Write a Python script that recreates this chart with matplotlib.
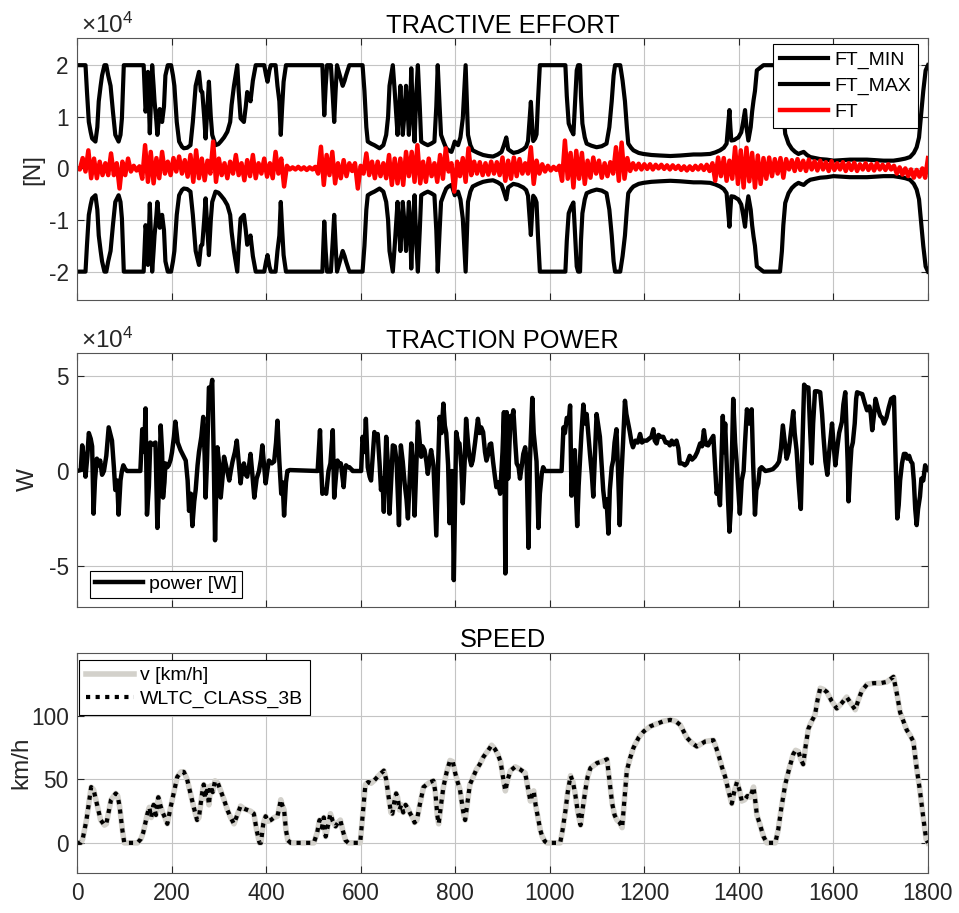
import numpy as np
import matplotlib
matplotlib.use('Agg')
import matplotlib.pyplot as plt

plt.rcParams['font.family'] = ['Liberation Sans', 'DejaVu Sans']
plt.rcParams['mathtext.fontset'] = 'custom'
plt.rcParams['mathtext.rm'] = 'Liberation Sans'
plt.rcParams['mathtext.it'] = 'Liberation Sans:italic'
plt.rcParams['mathtext.bf'] = 'Liberation Sans:bold'

# ---------------- DATA ----------------
# Tractive effort envelope: (time s, FT_MAX [1e4 N], FT_MIN [1e4 N])
ft_env = [
    (0, 2.0, -2.0), (18, 2.0, -2.0), (21, 1.5, -1.5), (25, 0.9, -0.9), (29, 0.7, -0.7),
    (32, 0.58, -0.58), (39, 0.52, -0.52), (43, 0.8, -0.8), (46, 1.3, -1.3), (50, 1.6, -1.6),
    (53, 1.8, -1.8), (58, 2.0, -2.0), (62, 2.0, -2.0), (66, 1.8, -1.8), (71, 1.6, -1.6),
    (76, 1.1, -1.1), (81, 0.65, -0.65), (88, 0.52, -0.52), (92, 0.65, -0.65), (95, 0.97, -0.97),
    (99, 2.0, -2.0), (141, 2.0, -2.0), (145, 1.1, -1.1), (148, 1.3, -1.3), (150, 1.87, -1.87),
    (154, 0.68, -0.68), (157, 1.5, -1.5), (159, 2.0, -2.0), (162, 1.6, -1.6), (164, 1.3, -1.3),
    (168, 0.9, -0.9), (170, 0.65, -0.65), (175, 1.15, -1.15), (180, 0.9, -0.9), (184, 1.2, -1.2),
    (187, 1.8, -1.8), (192, 2.0, -2.0), (199, 2.0, -2.0), (203, 1.8, -1.8), (206, 1.6, -1.6),
    (211, 0.9, -0.9), (216, 0.52, -0.52), (222, 0.42, -0.42), (226, 0.39, -0.39), (233, 0.4, -0.4),
    (240, 0.45, -0.45), (245, 0.9, -0.9), (251, 1.6, -1.6), (258, 1.87, -1.87), (262, 1.5, -1.5),
    (265, 1.48, -1.48), (269, 1.0, -1.0), (272, 0.58, -0.58), (276, 1.2, -1.2), (279, 1.68, -1.68),
    (283, 1.0, -1.0), (286, 0.65, -0.65), (293, 0.45, -0.45), (299, 0.47, -0.47), (304, 0.52, -0.52),
    (311, 0.6, -0.6), (318, 0.71, -0.71), (324, 0.9, -0.9), (327, 1.23, -1.23), (332, 1.6, -1.6),
    (339, 2.0, -2.0), (342, 1.5, -1.5), (346, 0.97, -0.97), (353, 0.9, -0.9), (357, 1.2, -1.2),
    (360, 1.48, -1.48), (364, 1.4, -1.4), (367, 1.3, -1.3), (372, 1.7, -1.7), (378, 2.0, -2.0),
    (396, 2.0, -2.0), (400, 1.8, -1.8), (403, 1.68, -1.68), (407, 1.9, -1.9), (410, 2.0, -2.0),
    (420, 2.0, -2.0), (424, 1.6, -1.6), (428, 1.3, -1.3), (431, 0.65, -0.65), (434, 1.2, -1.2),
    (437, 1.68, -1.68), (442, 2.0, -2.0), (519, 2.0, -2.0), (521, 1.5, -1.5), (523, 1.03, -1.03),
    (526, 1.6, -1.6), (529, 2.0, -2.0), (537, 2.0, -2.0), (541, 1.4, -1.4), (544, 0.9, -0.9),
    (547, 1.5, -1.5), (550, 2.0, -2.0), (556, 1.8, -1.8), (562, 1.6, -1.6), (566, 1.7, -1.7),
    (569, 1.8, -1.8), (576, 2.0, -2.0), (604, 2.0, -2.0), (608, 1.5, -1.5), (612, 0.8, -0.8),
    (615, 0.52, -0.52), (622, 0.48, -0.48), (629, 0.45, -0.45), (640, 0.39, -0.39), (648, 0.45, -0.45),
    (654, 0.65, -0.65), (658, 1.0, -1.0), (661, 1.6, -1.6), (668, 2.0, -2.0), (672, 1.5, -1.5),
    (678, 0.65, -0.65), (681, 1.1, -1.1), (684, 1.6, -1.6), (687, 1.1, -1.1), (689, 0.65, -0.65),
    (693, 1.1, -1.1), (696, 1.6, -1.6), (699, 1.2, -1.2), (702, 0.65, -0.65), (705, 1.2, -1.2),
    (707, 1.94, -1.94), (710, 1.2, -1.2), (714, 0.52, -0.52), (718, 1.5, -1.5), (721, 2.0, -2.0),
    (725, 1.2, -1.2), (728, 0.52, -0.52), (735, 0.48, -0.48), (742, 0.45, -0.45), (749, 0.48, -0.48),
    (756, 0.52, -0.52), (760, 1.2, -1.2), (763, 2.0, -2.0), (767, 1.2, -1.2), (770, 0.65, -0.65),
    (776, 0.5, -0.5), (781, 0.39, -0.39), (786, 0.35, -0.35), (792, 0.32, -0.32), (795, 0.4, -0.4),
    (799, 0.52, -0.52), (802, 0.48, -0.48), (806, 0.45, -0.45), (811, 0.6, -0.6), (816, 0.97, -0.97),
    (819, 1.5, -1.5), (822, 2.0, -2.0), (825, 1.2, -1.2), (827, 0.65, -0.65), (832, 0.45, -0.45),
    (837, 0.35, -0.35), (848, 0.3, -0.3), (859, 0.26, -0.26), (870, 0.24, -0.24), (880, 0.23, -0.23),
    (890, 0.27, -0.27), (898, 0.32, -0.32), (903, 0.45, -0.45), (908, 0.6, -0.6), (912, 0.37, -0.37),
    (918, 0.33, -0.33), (923, 0.3, -0.3), (933, 0.32, -0.32), (944, 0.37, -0.37), (950, 0.42, -0.42),
    (954, 0.53, -0.53), (957, 0.9, -0.9), (960, 1.29, -1.29), (963, 0.8, -0.8), (965, 0.53, -0.53),
    (969, 0.58, -0.58), (972, 0.66, -0.66), (975, 1.3, -1.3), (979, 2.0, -2.0), (1033, 2.0, -2.0),
    (1036, 1.4, -1.4), (1040, 0.87, -0.87), (1045, 0.75, -0.75), (1050, 0.66, -0.66), (1053, 1.2, -1.2),
    (1057, 1.9, -1.9), (1060, 2.0, -2.0), (1064, 2.0, -2.0), (1066, 1.4, -1.4), (1069, 0.87, -0.87),
    (1074, 0.6, -0.6), (1078, 0.48, -0.48), (1088, 0.44, -0.44), (1099, 0.41, -0.41), (1110, 0.43, -0.43),
    (1120, 0.48, -0.48), (1126, 0.8, -0.8), (1131, 1.3, -1.3), (1135, 1.8, -1.8), (1138, 2.0, -2.0),
    (1149, 2.0, -2.0), (1154, 1.7, -1.7), (1159, 1.3, -1.3), (1163, 0.8, -0.8), (1166, 0.48, -0.48),
    (1172, 0.4, -0.4), (1177, 0.35, -0.35), (1188, 0.3, -0.3), (1198, 0.28, -0.28), (1215, 0.26, -0.26),
    (1233, 0.25, -0.25), (1255, 0.24, -0.24), (1276, 0.25, -0.25), (1290, 0.26, -0.26), (1304, 0.27, -0.27),
    (1320, 0.27, -0.27), (1339, 0.28, -0.28), (1350, 0.31, -0.31), (1360, 0.35, -0.35), (1368, 0.4, -0.4),
    (1374, 0.48, -0.48), (1377, 0.8, -0.8), (1380, 1.13, -1.13), (1382, 0.8, -0.8), (1384, 0.54, -0.54),
    (1390, 0.55, -0.55), (1395, 0.58, -0.58), (1399, 0.6, -0.6), (1405, 0.7, -0.7), (1409, 0.9, -0.9),
    (1413, 1.13, -1.13), (1416, 0.8, -0.8), (1420, 0.54, -0.54), (1425, 0.8, -0.8), (1428, 1.1, -1.1),
    (1431, 1.32, -1.32), (1434, 1.5, -1.5), (1438, 1.9, -1.9), (1445, 1.95, -1.95), (1452, 2.0, -2.0),
    (1487, 2.0, -2.0), (1491, 1.6, -1.6), (1494, 1.1, -1.1), (1498, 0.67, -0.67), (1505, 0.48, -0.48),
    (1512, 0.38, -0.38), (1519, 0.32, -0.32), (1526, 0.28, -0.28), (1531, 0.3, -0.3), (1537, 0.32, -0.32),
    (1544, 0.26, -0.26), (1551, 0.22, -0.22), (1561, 0.2, -0.2), (1572, 0.18, -0.18), (1586, 0.17, -0.17),
    (1600, 0.15, -0.15), (1617, 0.16, -0.16), (1635, 0.17, -0.17), (1653, 0.17, -0.17), (1671, 0.17, -0.17),
    (1690, 0.16, -0.16), (1706, 0.15, -0.15), (1727, 0.15, -0.15), (1741, 0.17, -0.17), (1752, 0.19, -0.19),
    (1762, 0.22, -0.22), (1770, 0.3, -0.3), (1776, 0.41, -0.41), (1781, 0.6, -0.6), (1785, 0.99, -0.99),
    (1790, 1.5, -1.5), (1795, 1.9, -1.9), (1800, 2.0, -2.0),
]

# Tractive effort FT [1e4 N], sampled every 6 s (0 ... 1800 s)
ft_step = 6
ft_vals = [
    0.0, -0.02, 0.2, -0.06, 0.35, -0.19, 0.19, -0.19, 0.13, -0.13,
    0.1, -0.13, 0.29, -0.13, 0.1, -0.39, 0.13, -0.13, 0.19, -0.06,
    0.05, -0.04, 0.04, -0.2, 0.45, -0.26, 0.32, -0.29, 0.2, -0.19,
    0.32, -0.1, 0.13, -0.13, 0.2, -0.06, 0.23, -0.1, 0.16, -0.16,
    0.26, -0.26, 0.35, -0.19, 0.19, -0.23, 0.15, -0.1, 0.52, -0.26,
    0.19, -0.13, 0.1, -0.19, 0.13, -0.1, 0.26, -0.13, 0.1, -0.23,
    0.16, -0.15, 0.26, -0.19, 0.1, -0.1, 0.19, -0.16, 0.1, -0.19,
    0.32, -0.1, 0.19, -0.35, 0.05, -0.02, 0.02, -0.02, 0.03, -0.02,
    0.02, -0.03, 0.02, -0.02, 0.03, -0.1, 0.42, -0.32, 0.26, -0.13,
    0.32, -0.29, 0.1, -0.19, 0.16, -0.15, 0.1, -0.05, 0.1, -0.39,
    0.05, -0.1, 0.29, -0.13, 0.13, -0.19, 0.13, -0.15, 0.1, -0.19,
    0.26, -0.32, 0.19, -0.29, 0.19, -0.32, 0.32, -0.15, 0.32, -0.26,
    0.45, -0.29, 0.13, -0.26, 0.19, -0.15, 0.1, -0.26, 0.26, -0.2,
    0.39, -0.06, 0.1, -0.45, 0.13, -0.15, 0.2, -0.26, 0.39, -0.13,
    0.13, -0.1, 0.12, -0.13, 0.1, -0.12, 0.13, -0.1, 0.12, -0.13,
    0.21, -0.24, 0.15, -0.2, 0.21, -0.15, 0.18, -0.1, 0.1, -0.1,
    0.41, -0.3, 0.15, -0.1, 0.08, -0.06, 0.05, -0.04, 0.03, -0.03,
    0.05, -0.24, 0.54, -0.2, 0.3, -0.37, 0.34, -0.2, 0.3, -0.3,
    0.15, -0.18, 0.21, -0.1, 0.15, -0.18, 0.1, -0.15, 0.12, -0.1,
    0.41, -0.24, 0.5, -0.2, 0.2, -0.05, 0.1, -0.02, 0.09, -0.02,
    0.08, -0.01, 0.08, -0.02, 0.07, 0.0, 0.07, -0.01, 0.06, -0.02,
    0.06, -0.01, 0.05, -0.03, 0.04, -0.04, 0.04, -0.03, 0.05, -0.02,
    0.06, -0.03, 0.07, -0.05, 0.1, -0.24, 0.21, -0.15, 0.2, -0.24,
    0.15, -0.2, 0.41, -0.3, 0.35, -0.37, 0.4, -0.25, 0.3, -0.37,
    0.25, -0.3, 0.2, -0.2, 0.21, -0.15, 0.18, -0.1, 0.2, -0.18,
    0.18, -0.02, 0.16, -0.05, 0.18, -0.03, 0.15, -0.05, 0.17, -0.02,
    0.14, -0.04, 0.15, -0.02, 0.12, -0.05, 0.14, -0.03, 0.1, -0.02,
    0.12, -0.05, 0.1, -0.03, 0.11, -0.05, 0.08, -0.02, 0.1, -0.03,
    0.08, -0.04, 0.1, -0.02, 0.07, -0.03, 0.08, -0.02, 0.05, -0.1,
    0.02, -0.12, 0.0, -0.15, -0.02, -0.18, -0.03, -0.16, 0.0, -0.18,
    0.2,
]

# Traction power: (time s, power [1e4 W])
power_pts = [
    (0, 0), (8, 0.05), (11, 1.35), (15, 0.6), (18, -0.3), (22, 0.8), (25, 2.0), (29, 1.7), (32, 1.3),
    (35, -2.25), (38, -0.5), (42, 0.65), (46, 0.3), (49, 0.55), (53, -0.2), (57, 0), (62, 0.8),
    (67, 2.3), (71, 1.9), (74, 1.6), (78, 0.2), (81, -1.0), (85, -0.5), (88, -2.3), (92, -0.5),
    (95, 0), (98, 0.3), (102, 0.1), (106, 0), (134, 0), (138, 2.2), (142, 1.0), (145, 3.3),
    (148, -2.3), (152, -0.8), (155, 1.5), (160, 1.4), (166, 1.5), (170, -3.0), (174, -0.5),
    (177, 2.4), (180, 1.0), (182, -1.4), (185, -0.6), (187, 0.4), (191, 0.2), (194, 0.3),
    (198, 0.6), (201, 1.0), (205, 1.8), (208, 2.6), (213, 1.5), (219, 1.1), (225, 0.8),
    (230, 0.55), (234, -0.5), (237, -2.1), (241, -1.2), (244, -2.9), (248, -1.6), (251, -1.0),
    (255, 0.3), (258, 1.0), (263, 1.8), (267, 2.85), (270, 0.8), (272, -1.4), (275, 0.5),
    (279, 4.4), (283, 4.3), (286, 4.8), (289, 1.0), (292, -3.65), (295, -0.5), (297, 1.25),
    (301, 0.3), (304, -1.4), (308, -0.3), (311, 0.75), (316, 0.2), (322, -0.5), (326, 0.1),
    (329, 0.5), (334, 1.0), (338, 1.6), (342, 0.5), (346, -0.65), (350, 0.2), (353, 0.4),
    (357, -0.2), (360, -0.3), (364, 0.3), (367, 0.9), (371, -0.2), (375, -1.4), (380, -0.4),
    (385, 0), (389, 0.6), (392, 1.35), (396, 0.2), (399, -0.65), (403, 0.1), (406, 0.55),
    (412, 0.4), (417, 0.5), (421, 1.5), (424, 2.65), (428, 0.5), (432, -1.2), (435, -0.6),
    (438, -2.35), (442, -0.6), (445, 0), (450, 0.05), (509, 0), (514, 2.15), (516, 0.5),
    (519, -1.2), (523, -1.0), (527, -1.2), (532, 0), (536, 0.4), (541, 2.15), (544, -1.4),
    (548, -0.2), (551, 0.55), (555, 0.3), (558, 0.4), (561, -0.2), (564, -0.85), (567, 0.1),
    (569, 0.3), (573, 0.2), (576, 0.2), (580, 0.1), (583, 0), (601, 0), (604, 1.8), (608, 1.0),
    (611, 2.75), (615, 0.2), (619, -0.3), (622, -0.5), (626, 1.0), (629, 2.05), (633, 1.8),
    (636, 1.95), (640, 0.4), (643, -1.0), (646, -0.4), (649, -2.15), (652, 0.3), (654, 1.8),
    (658, 0.2), (661, -2.25), (665, -0.3), (668, 1.35), (672, 1.3), (676, 0.5), (681, -2.85),
    (683, -0.5), (685, 1.35), (689, 0.5), (693, -0.65), (697, -1.5), (700, -2.5), (704, -0.2),
    (707, 1.45), (711, 0.2), (714, -2.35), (718, 0.5), (721, 2.6), (725, 1.5), (728, 0.75),
    (731, 1.3), (735, 1.1), (739, 0.5), (742, -0.15), (746, 0.6), (749, 1.1), (754, 0.3),
    (757, -1.5), (760, -3.4), (764, 0.5), (767, 2.85), (771, 2.0), (775, 3.55), (778, 2.4),
    (781, 2.0), (785, 0.3), (788, -2.75), (791, -0.5), (793, 0), (795, -2.0), (797, -5.75),
    (800, -1.0), (802, 2.05), (806, 1.5), (809, 1.45), (813, 0.2), (816, -1.7), (820, 0.5),
    (823, 2.75), (827, 1.5), (830, 0.75), (834, 0.3), (837, 0.55), (842, 1.5), (848, 2.75),
    (852, 2.0), (855, 2.3), (859, 2.05), (863, 1.0), (866, 0.55), (870, 0.9), (873, 1.4),
    (876, 1.45), (880, 0.5), (884, -0.3), (887, -0.85), (891, -0.6), (895, -1.2), (897, -0.3),
    (900, 1.0), (903, 3.1), (906, -5.4), (909, 3.1), (912, -0.4), (915, 1.5), (917, 2.9),
    (920, 2.7), (923, 3.2), (927, 1.5), (930, 0.4), (934, 0.2), (937, -0.4), (941, 0.3),
    (944, 0.9), (948, 1.25), (951, 0.5), (955, -4.05), (958, 0.5), (961, 2.5), (963, 3.85),
    (966, 2.0), (969, 1.25), (972, 0.5), (976, -3.0), (979, -1.2), (983, -0.15), (986, 0.2),
    (990, 0), (1025, 0), (1029, 2.3), (1032, 2.0), (1036, 2.8), (1040, 2.6), (1043, 3.45),
    (1046, -1.3), (1049, 0.2), (1053, 1.1), (1055, -1.0), (1058, -2.9), (1061, -0.8),
    (1064, 0.55), (1067, 2.0), (1071, 3.5), (1075, 2.5), (1078, 3.0), (1082, 1.8), (1085, 0.9),
    (1089, -0.2), (1092, -1.35), (1095, 0.5), (1099, 3.0), (1102, 2.5), (1106, 1.8), (1110, 0.2),
    (1113, -1.0), (1117, -1.9), (1120, -1.5), (1124, -3.3), (1127, -1.0), (1131, 0.2),
    (1134, 0.55), (1137, 1.5), (1141, 2.2), (1144, 0.3), (1148, -2.85), (1151, -0.5),
    (1155, 1.5), (1159, 3.7), (1162, 3.0), (1166, 2.5), (1169, 2.1), (1173, 1.5), (1176, 1.25),
    (1181, 1.6), (1186, 1.5), (1191, 1.95), (1195, 1.5), (1200, 1.6), (1205, 1.6), (1210, 1.7),
    (1215, 1.8), (1219, 2.2), (1222, 1.6), (1226, 1.45), (1230, 1.9), (1235, 1.8), (1240, 1.8),
    (1245, 1.5), (1250, 1.5), (1254, 1.35), (1258, 1.6), (1262, 1.4), (1268, 1.6), (1272, 1.2),
    (1275, 0.4), (1280, 0.4), (1286, 0.3), (1290, 0.4), (1296, 0.8), (1301, 0.6), (1307, 0.75),
    (1312, 1.0), (1318, 1.45), (1322, 1.3), (1326, 2.15), (1330, 1.4), (1335, 1.35), (1340, 1.6),
    (1346, 1.85), (1349, 0.5), (1353, -1.2), (1356, -0.8), (1360, -1.8), (1363, 0.5),
    (1366, 2.9), (1368, 1.0), (1371, 2.5), (1374, 0.5), (1377, -1.5), (1380, -3.2), (1383, -2.0),
    (1385, 0.5), (1388, 3.8), (1392, 1.5), (1395, 0.55), (1399, -1.0), (1402, -2.25),
    (1406, -0.5), (1410, 0), (1413, 1.5), (1417, 3.25), (1422, 2.5), (1427, 3.25), (1430, 0.5),
    (1434, -2.3), (1437, -1.0), (1441, -0.65), (1444, 0.1), (1448, 0.2), (1452, 0.1), (1456, 0),
    (1466, 0.05), (1472, 0.1), (1480, 0.3), (1485, 0.5), (1489, 1.2), (1493, 2.4), (1497, 1.5),
    (1501, 0.65), (1505, 1.0), (1508, 1.6), (1512, 2.5), (1515, 3.15), (1518, 2.0), (1522, 1.1),
    (1526, -0.5), (1529, -1.5), (1531, -2.0), (1534, 1.0), (1538, 4.55), (1542, 4.4),
    (1547, 4.4), (1551, 2.0), (1554, 0.4), (1557, 2.5), (1561, 4.2), (1566, 4.2), (1572, 4.15),
    (1576, 3.0), (1579, 1.8), (1583, 0.5), (1587, -0.2), (1591, 1.0), (1597, 2.5), (1600, 1.5),
    (1604, 0.3), (1608, 1.2), (1612, 2.0), (1615, 2.3), (1618, 2.6), (1621, 3.5), (1625, 4.15),
    (1628, 2.0), (1630, 0.5), (1632, -1.6), (1635, 0.0), (1638, 1.2), (1641, 1.5), (1645, 2.5),
    (1648, 3.8), (1650, 4.15), (1655, 4.1), (1661, 4.05), (1666, 3.6), (1671, 3.2), (1676, 3.4),
    (1679, 3.0), (1682, 2.15), (1686, 3.0), (1689, 3.8), (1694, 3.3), (1699, 2.9), (1703, 2.8),
    (1707, 2.5), (1712, 2.8), (1717, 3.35), (1722, 3.8), (1728, 3.9), (1731, 1.0), (1735, -2.5),
    (1738, -1.8), (1741, -0.5), (1745, 0.4), (1749, 0.9), (1753, 0.9), (1756, 0.65), (1760, 0.8),
    (1764, 0.5), (1767, 0.4), (1770, -0.5), (1773, -2.0), (1776, -2.85), (1779, -2.0),
    (1783, -1.35), (1786, -0.4), (1790, -0.5), (1794, 0.3), (1797, 0.1), (1800, 0.05),
]

# WLTC class 3b speed trace: (time s, speed km/h)
speed_pts = [
    (0, 0), (8, 0), (12, 3), (20, 18), (30, 44), (35, 42), (40, 34), (50, 18), (58, 14), (62, 15),
    (72, 34), (82, 39), (86, 37), (90, 29), (96, 10), (100, 0), (128, 0), (135, 3), (140, 8),
    (149, 23), (153, 28), (157, 20), (162, 30), (167, 22), (172, 36), (176, 30), (181, 24),
    (186, 20), (191, 15), (198, 28), (205, 40), (212, 52), (220, 56), (226, 56), (233, 50),
    (240, 39), (247, 28), (254, 18), (258, 20), (261, 29), (265, 40), (268, 46), (271, 35),
    (275, 44), (279, 30), (283, 45), (287, 40), (292, 49), (298, 47), (304, 41), (311, 34),
    (318, 26), (325, 20), (332, 15), (339, 22), (346, 29), (353, 27), (360, 26), (367, 25),
    (374, 23), (380, 10), (386, 0), (389, 0), (394, 15), (399, 21), (404, 17), (410, 18),
    (417, 20), (424, 21), (428, 28), (431, 34), (434, 30), (438, 26), (442, 10), (446, 2),
    (452, 0), (501, 0), (508, 8), (513, 18), (518, 12), (522, 20), (526, 5), (531, 14),
    (536, 23), (541, 17), (547, 13), (552, 16), (557, 18), (562, 10), (568, 2), (574, 0),
    (599, 0), (605, 25), (610, 46), (616, 48), (622, 47), (628, 49), (638, 53), (649, 57),
    (654, 50), (660, 34), (664, 24), (667, 23), (671, 32), (675, 39), (678, 36), (682, 26),
    (686, 30), (690, 24), (695, 30), (700, 27), (705, 23), (710, 20), (714, 16), (719, 18),
    (725, 30), (733, 44), (740, 46), (747, 48), (754, 49), (758, 40), (762, 22), (765, 15),
    (770, 30), (775, 44), (782, 56), (789, 65), (795, 64), (800, 55), (805, 48), (810, 42),
    (814, 32), (818, 22), (821, 18), (826, 32), (831, 46), (838, 52), (845, 58), (852, 62),
    (860, 68), (868, 72), (877, 77), (884, 74), (890, 70), (896, 64), (901, 52), (906, 41),
    (911, 50), (917, 57), (927, 60), (937, 58), (948, 55), (953, 45), (959, 33), (963, 38),
    (966, 41), (970, 30), (975, 20), (980, 10), (984, 5), (990, 1), (994, 0), (1022, 0),
    (1027, 10), (1033, 25), (1038, 40), (1044, 53), (1049, 48), (1054, 38), (1059, 25),
    (1065, 14), (1070, 28), (1075, 41), (1080, 52), (1086, 59), (1093, 61), (1100, 63),
    (1110, 64), (1121, 66), (1126, 50), (1132, 31), (1137, 22), (1142, 18), (1148, 16),
    (1153, 12), (1157, 30), (1163, 57), (1170, 67), (1177, 75), (1188, 83), (1199, 88),
    (1213, 92), (1227, 94), (1241, 96), (1255, 97), (1266, 96), (1276, 93), (1283, 88),
    (1290, 83), (1300, 79), (1311, 76), (1320, 78), (1329, 80), (1346, 81), (1352, 75),
    (1358, 68), (1364, 60), (1371, 52), (1378, 41), (1382, 35), (1385, 31), (1390, 40),
    (1396, 48), (1401, 42), (1406, 33), (1412, 34), (1418, 37), (1424, 36), (1431, 44),
    (1435, 32), (1438, 22), (1445, 14), (1452, 5), (1459, 0), (1477, 0), (1483, 10), (1490, 28),
    (1498, 46), (1506, 58), (1515, 70), (1520, 73), (1526, 72), (1531, 66), (1536, 62),
    (1541, 76), (1547, 90), (1554, 96), (1561, 101), (1566, 112), (1572, 122), (1579, 121),
    (1586, 119), (1596, 112), (1607, 106), (1617, 110), (1628, 115), (1637, 110), (1646, 105),
    (1653, 113), (1660, 120), (1671, 125), (1685, 126), (1700, 126), (1713, 127), (1727, 131),
    (1734, 118), (1741, 103), (1748, 96), (1755, 89), (1762, 85), (1769, 80), (1776, 59),
    (1783, 41), (1790, 20), (1796, 3), (1800, 0),
]

x_ticks = [0, 200, 400, 600, 800, 1000, 1200, 1400, 1600, 1800]
ft_yticks = [-2, -1, 0, 1, 2]
power_yticks = [-5, 0, 5]
speed_yticks = [0, 50, 100]

# ---------------- PLOT ----------------
ft_t = np.array([p[0] for p in ft_env])
ft_max = np.array([p[1] for p in ft_env])
ft_min = np.array([p[2] for p in ft_env])
ft_time = np.arange(len(ft_vals)) * ft_step
pw_t, pw_v = map(np.array, zip(*power_pts))
sp_t, sp_v = map(np.array, zip(*speed_pts))

fig = plt.figure(figsize=(9.59, 9.13), dpi=100)
L, Wd = 77 / 959, 851 / 959
ax1 = fig.add_axes([L, 0.6714, Wd, 0.2866])
ax2 = fig.add_axes([L, 0.3355, Wd, 0.2775])
ax3 = fig.add_axes([L, 0.0435, Wd, 0.2416])

TICK_FS = 16.3
LAB_FS = 18.3
YLAB_FS = 17.5
LEG_FS = 14
GRID_C = '#c4c4c4'
AX_C = '#262626'

for ax in (ax1, ax2, ax3):
    ax.set_xlim(0, 1800)
    ax.set_xticks(x_ticks)
    ax.grid(True, color=GRID_C, linewidth=0.8)
    ax.set_axisbelow(True)
    ax.tick_params(direction='in', length=5, width=0.8, top=True, right=True,
                   labelsize=TICK_FS, colors=AX_C, pad=6)
    for s in ax.spines.values():
        s.set_color('#555555')
        s.set_linewidth(0.8)

ax1.tick_params(labelbottom=False)
ax2.tick_params(labelbottom=False)

leg_kw = dict(fontsize=LEG_FS, frameon=True, fancybox=False, edgecolor='black',
              framealpha=1, handlelength=2.5, handletextpad=0.3, borderaxespad=0)

# Panel 1
ax1.plot(ft_t, ft_min, color='black', lw=3, label='FT_MIN')
ax1.plot(ft_t, ft_max, color='black', lw=3, label='FT_MAX')
ax1.plot(ft_time, ft_vals, color='red', lw=3.2, label='FT')
ax1.set_ylim(-2.55, 2.52)
ax1.set_yticks(ft_yticks)
ax1.set_yticklabels([str(v) for v in ft_yticks])
ax1.set_title('TRACTIVE EFFORT', fontsize=LAB_FS, pad=4)
ax1.set_ylabel('[N]', fontsize=YLAB_FS, color=AX_C)
ax1.yaxis.set_label_coords(-0.038, 0.5)
ax1.text(0.005, 1.0, r'$\times10^{4}$', transform=ax1.transAxes, fontsize=17.5,
         ha='left', va='bottom', color=AX_C)
leg1 = ax1.legend(loc='upper right', bbox_to_anchor=(0.988, 0.977),
                  labelspacing=0.42, borderpad=0.35, **leg_kw)
leg1.get_frame().set_linewidth(0.8)

# Panel 2
ax2.plot(pw_t, pw_v, color='black', lw=3.2, label='power [W]')
ax2.set_ylim(-7.15, 6.2)
ax2.set_yticks(power_yticks)
ax2.set_yticklabels([str(v) for v in power_yticks])
ax2.set_title('TRACTION POWER', fontsize=LAB_FS, pad=3)
ax2.set_ylabel('W', fontsize=YLAB_FS, color=AX_C)
ax2.yaxis.set_label_coords(-0.045, 0.5)
ax2.text(0.005, 1.0, r'$\times10^{4}$', transform=ax2.transAxes, fontsize=17.5,
         ha='left', va='bottom', color=AX_C)
leg2 = ax2.legend(loc='lower left', bbox_to_anchor=(0.0153, 0.034),
                  borderpad=0.25, **leg_kw)
leg2.get_frame().set_linewidth(0.8)

# Panel 3
ax3.plot(sp_t, sp_v, color='#d3d1cb', lw=4, label='v [km/h]')
ax3.plot(sp_t, sp_v, color='black', lw=3, linestyle=(0, (1, 1.3)), label='WLTC_CLASS_3B')
ax3.set_ylim(-24, 150)
ax3.set_yticks(speed_yticks)
ax3.set_yticklabels([str(v) for v in speed_yticks])
ax3.set_title('SPEED', fontsize=LAB_FS, pad=4)
ax3.set_ylabel('km/h', fontsize=YLAB_FS, color=AX_C)
ax3.yaxis.set_label_coords(-0.053, 0.5)
leg3 = ax3.legend(loc='upper left', bbox_to_anchor=(0.0024, 0.967),
                  labelspacing=0.3, borderpad=0.35, **leg_kw)
leg3.get_frame().set_linewidth(0.8)

fig.savefig('out.png', dpi=100)
